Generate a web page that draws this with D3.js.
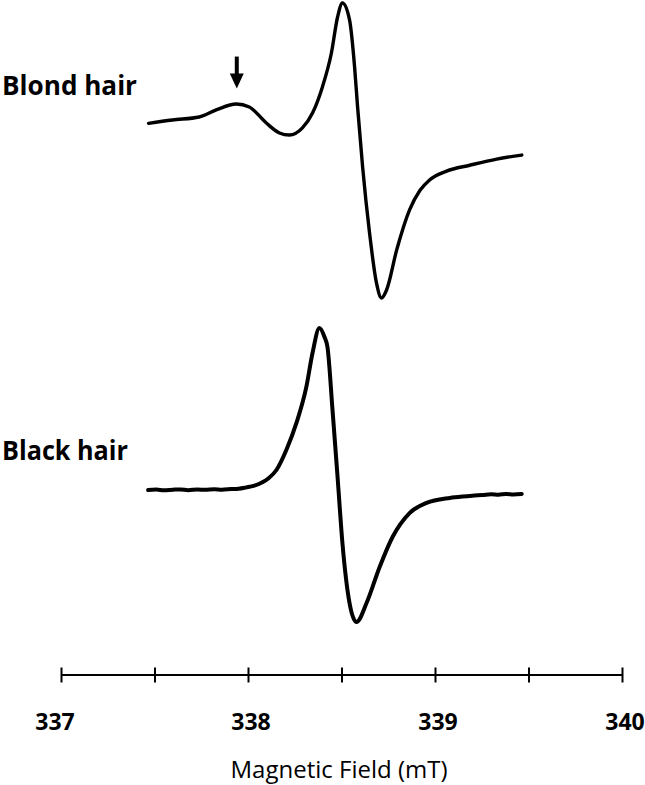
<!DOCTYPE html>
<html>
<head>
<meta charset="utf-8">
<script src="https://cdn.jsdelivr.net/npm/d3@7"></script>
<style>
  html, body { margin: 0; padding: 0; background: #fff; }
  svg { display: block; }
</style>
</head>
<body>
<div id="chart"></div>
<script>
"use strict";

/* EPR spectra: field in mT, intensity in arbitrary units (peak = 1) */
const blondField = [337.468, 337.595, 337.739, 337.830, 337.938, 338.007, 338.098, 338.168, 338.221,
  338.291, 338.345, 338.398, 338.446, 338.479, 338.505, 338.543, 338.570, 338.586, 338.613, 338.650,
  338.687, 338.714, 338.741, 338.795, 338.864, 338.920, 338.971, 339.062, 339.186, 339.330, 339.464];
const blondSignal = [0.184, 0.207, 0.227, 0.275, 0.315, 0.295, 0.186, 0.119, 0.105,
  0.153, 0.254, 0.431, 0.661, 0.905, 1.000, 0.885, 0.566, 0.295, -0.112, -0.559,
  -0.898, -1.000, -0.946, -0.675, -0.403, -0.270, -0.200, -0.140, -0.100, -0.058, -0.031];

const blackField = [337.466, 337.51, 337.55, 337.60, 337.64, 337.68, 337.73, 337.77, 337.82, 337.86,
  337.91, 337.95, 337.991, 338.03, 338.077, 338.11, 338.152, 338.205, 338.259, 338.312, 338.345,
  338.382, 338.409, 338.425, 338.452, 338.479, 338.505, 338.543, 338.580, 338.634, 338.704, 338.773,
  338.864, 338.955, 339.079, 339.15, 339.21, 339.255, 339.30, 339.34, 339.38, 339.42, 339.464];
const blackSignal = [-0.102, -0.099, -0.104, -0.100, -0.098, -0.103, -0.099, -0.101, -0.097, -0.100,
  -0.096, -0.093, -0.084, -0.074, -0.050, -0.022, 0.034, 0.170, 0.354, 0.599, 0.830,
  1.000, 0.939, 0.871, 0.442, -0.014, -0.463, -0.871, -1.000, -0.871, -0.626, -0.422,
  -0.259, -0.190, -0.156, -0.146, -0.140, -0.136, -0.131, -0.134, -0.129, -0.132, -0.129];

const tickValues = [337, 337.5, 338, 338.5, 339, 339.5, 340];
const tickLabels = ["337", "", "338", "", "339", "", "340"];
const sampleLabels = ["Blond hair", "Black hair"];
const arrowField = 337.94;   // marked shoulder on the blond spectrum
const arrowTip = 0.42;

const W = 645, H = 785;

const svg = d3.select("#chart").append("svg")
  .attr("width", W).attr("height", H);

const x = d3.scaleLinear().domain([337, 340]).range([61, 622]);
const yBlond = d3.scaleLinear().domain([-1, 1]).range([298, 3]);
const yBlack = d3.scaleLinear().domain([-1, 1]).range([622, 328]);

/* ── Spectra ── */
function drawTrace(fields, values, y, width) {
  const pts = fields.map(function (f, i) { return [f, values[i]]; });
  const line = d3.line()
    .x(function (d) { return x(d[0]); })
    .y(function (d) { return y(d[1]); })
    .curve(d3.curveMonotoneX);
  svg.append("path")
    .datum(pts)
    .attr("d", line)
    .attr("fill", "none")
    .attr("stroke", "#000")
    .attr("stroke-width", width)
    .attr("stroke-linejoin", "round")
    .attr("stroke-linecap", "round");
}
drawTrace(blondField, blondSignal, yBlond, 3.4);
drawTrace(blackField, blackSignal, yBlack, 4);

/* ── Arrow over the shoulder ── */
const ax = x(arrowField), ay = yBlond(arrowTip);
svg.append("line")
  .attr("x1", ax).attr("x2", ax)
  .attr("y1", ay - 32).attr("y2", ay - 12)
  .attr("stroke", "#000").attr("stroke-width", 4);
svg.append("path")
  .attr("d", "M" + (ax - 7) + "," + (ay - 15) + "L" + (ax + 7) + "," + (ay - 15) + "L" + ax + "," + ay + "Z")
  .attr("fill", "#000");

/* ── Sample labels ── */
svg.selectAll(".sample")
  .data(sampleLabels)
  .enter().append("text")
  .attr("class", "sample")
  .attr("x", 2)
  .attr("y", function (d, i) { return i === 0 ? 95 : 460; })
  .attr("font-family", "Open Sans, sans-serif")
  .attr("font-weight", 700)
  .attr("font-size", 26)
  .attr("textLength", function (d, i) { return i === 0 ? 135 : 126; })
  .attr("lengthAdjust", "spacingAndGlyphs")
  .attr("fill", "#000")
  .text(function (d) { return d; });

/* ── Field axis ── */
const axisY = 675;
const axisG = svg.append("g")
  .attr("transform", "translate(0," + axisY + ")")
  .call(d3.axisBottom(x).tickValues(tickValues).tickSize(15).tickFormat(""));
axisG.select(".domain")
  .attr("d", "M" + x(337) + ",0H" + x(340))
  .attr("stroke", "#000").attr("stroke-width", 2);
axisG.selectAll(".tick line")
  .attr("y1", -7.5).attr("y2", 7.5)
  .attr("stroke", "#000").attr("stroke-width", 2);

svg.selectAll(".tlabel")
  .data(tickValues)
  .enter().append("text")
  .attr("class", "tlabel")
  .attr("x", function (d) { return x(d); })
  .attr("dx", function (d, i) { return i === 0 ? -6 : 3; })
  .attr("y", 730)
  .attr("text-anchor", "middle")
  .attr("font-family", "Open Sans, sans-serif")
  .attr("font-weight", 700)
  .attr("font-size", 23)
  .attr("fill", "#000")
  .text(function (d, i) { return tickLabels[i]; });

svg.append("text")
  .attr("x", 339)
  .attr("y", 778)
  .attr("text-anchor", "middle")
  .attr("font-family", "Open Sans, sans-serif")
  .attr("font-size", 24)
  .attr("fill", "#000")
  .text("Magnetic Field (mT)");
</script>
</body>
</html>
